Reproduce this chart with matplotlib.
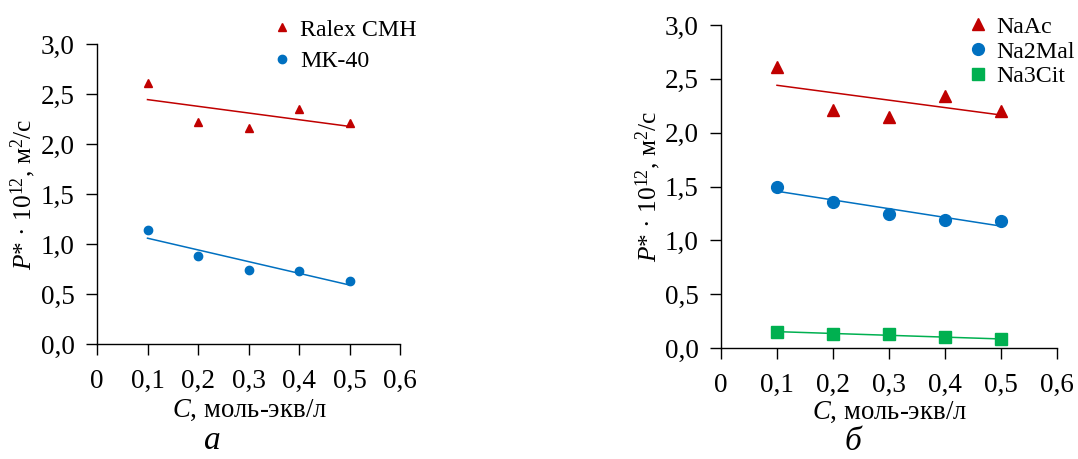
import numpy as np
import matplotlib
matplotlib.use("Agg")
import matplotlib.pyplot as plt

plt.rcParams['font.family'] = ['Liberation Serif', 'DejaVu Serif']
plt.rcParams['mathtext.fontset'] = 'custom'
plt.rcParams['mathtext.rm'] = 'Liberation Serif'
plt.rcParams['mathtext.it'] = 'Liberation Serif:italic'

C = [0.1, 0.2, 0.3, 0.4, 0.5]
ralex = [2.61, 2.22, 2.16, 2.35, 2.21]
mk40 = [1.14, 0.88, 0.74, 0.73, 0.63]
naac = [2.61, 2.21, 2.15, 2.34, 2.20]
na2mal = [1.50, 1.36, 1.24, 1.19, 1.18]
na3cit = [0.15, 0.13, 0.13, 0.10, 0.08]

xticks = [0, 0.1, 0.2, 0.3, 0.4, 0.5, 0.6]
xticklabels = ['0', '0,1', '0,2', '0,3', '0,4', '0,5', '0,6']
yticks = [0, 0.5, 1.0, 1.5, 2.0, 2.5, 3.0]
yticklabels = ['0,0', '0,5', '1,0', '1,5', '2,0', '2,5', '3,0']

RED = '#c00000'
BLUE = '#0070c0'
GREEN = '#00b050'

fig = plt.figure(figsize=(10.78, 4.59), dpi=100)
axL = fig.add_axes([97/1078, 1-344/459, 303/1078, 300/459])
axR = fig.add_axes([721/1078, 1-348/459, 336/1078, 323/459])

def trend(ax, x, y, color):
    k, b = np.polyfit(x, y, 1)
    xs = np.array([x[0], x[-1]])
    ax.plot(xs, k*xs + b, color=color, lw=1.1, zorder=2)

def style(ax, xlc, ylc):
    ax.set_xlim(0, 0.6)
    ax.set_ylim(0, 3.0)
    ax.spines['top'].set_visible(False)
    ax.spines['right'].set_visible(False)
    for s in ('left', 'bottom'):
        ax.spines[s].set_linewidth(1.0)
    ax.set_xticks(xticks)
    ax.set_xticklabels(xticklabels)
    ax.set_yticks(yticks)
    ax.set_yticklabels(yticklabels)
    ax.tick_params(labelsize=19.5, length=8, width=1.0, direction='out', pad=8)
    ax.tick_params(axis='x', pad=10)
    ax.set_xlabel('$C$, моль-экв/л', fontsize=19.3)
    ax.set_ylabel('$P$* · 10$^{12}$, м$^2$/с', fontsize=18.3)
    ax.xaxis.label.set_va('center')
    ax.yaxis.label.set_va('center')
    ax.xaxis.set_label_coords(*xlc)
    ax.yaxis.set_label_coords(*ylc)
    for t in ax.get_xticklabels() + ax.get_yticklabels():
        t.set_clip_on(False)

# Left panel
axL.plot(C, ralex, '^', color=RED, ms=6, ls='none', label='Ralex CMH', zorder=3, clip_on=False)
axL.plot(C, mk40, 'o', color=BLUE, ms=6, ls='none', label='МК-40', zorder=3, clip_on=False)
trend(axL, C, ralex, RED)
trend(axL, C, mk40, BLUE)
style(axL, (0.505, -0.223), (-0.244, 0.5))
axL.legend(loc='upper left', bbox_to_anchor=(270/1078, 1-19/459), bbox_transform=fig.transFigure,
           frameon=False, fontsize=17.2, handletextpad=0.25, handlelength=1.0,
           labelspacing=0.42, borderaxespad=0, borderpad=0)

# Right panel
axR.plot(C, naac, '^', color=RED, ms=8.5, ls='none', label='NaAc', zorder=3, clip_on=False)
axR.plot(C, na2mal, 'o', color=BLUE, ms=8.5, ls='none', label='Na2Mal', zorder=3, clip_on=False)
axR.plot(C, na3cit, 's', color=GREEN, ms=8, ls='none', label='Na3Cit', zorder=3, clip_on=False)
trend(axR, C, naac, RED)
trend(axR, C, na2mal, BLUE)
trend(axR, C, na3cit, GREEN)
style(axR, (0.503, -0.198), (-0.217, 0.5))
axR.legend(loc='upper left', bbox_to_anchor=(966/1078, 1-16/459), bbox_transform=fig.transFigure,
           frameon=False, fontsize=17.2, handletextpad=0.25, handlelength=1.0,
           labelspacing=0.13, borderaxespad=0, borderpad=0)

fig.text(212/1078, 1-441/459, 'а', fontsize=24, style='italic', ha='center', va='center')
fig.text(853/1078, 1-442/459, 'б', fontsize=24, style='italic', ha='center', va='center')

fig.savefig('out.png', dpi=100)
